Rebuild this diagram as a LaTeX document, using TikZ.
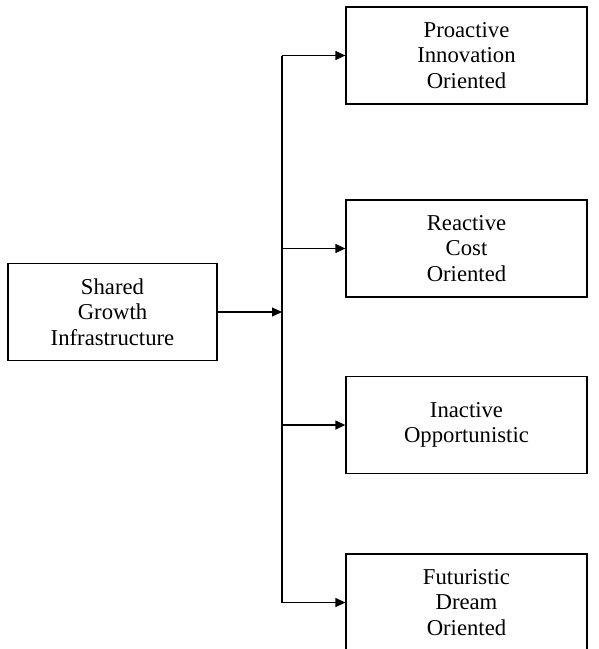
\documentclass[tikz,border=0pt]{standalone}
\usepackage{fontspec}
\setmainfont{Liberation Serif}
\usetikzlibrary{arrows.meta}
\begin{document}
\begin{tikzpicture}[x=1pt,y=-1pt,
  box/.style={draw, line width=1.3pt, minimum width=241pt, minimum height=97pt,
    align=center, inner sep=0pt, font=\fontsize{22.7}{25.5}\selectfont},
  wire/.style={line width=1.3pt},
  link/.style={wire, -{Triangle[length=10pt,width=9pt]}}]
\useasboundingbox (0,0) rectangle (599,649);
\clip (0,0) rectangle (599,649);

% source block
\node[box, minimum width=209pt] (src) at (112.5,312) {Shared\\Growth\\Infrastructure};

% strategy blocks
\node[box] (pro) at (466.5,55.5)  {Proactive\\Innovation\\Oriented};
\node[box] (rea) at (466.5,248.5) {Reactive\\Cost\\Oriented};
\node[box] (ina) at (466.5,425)   {Inactive\\Opportunistic};
\node[box] (fut) at (466.5,602.5) {Futuristic\\Dream\\Oriented};

% distribution bus
\coordinate (hub) at (282,312);
\draw[link] (src.east) -- (hub);
\draw[wire] (pro.west -| hub) -- (fut.west -| hub);
\foreach \n in {pro,rea,ina,fut}
  \draw[link] (\n.west -| hub) -- (\n.west);
\end{tikzpicture}
\end{document}
